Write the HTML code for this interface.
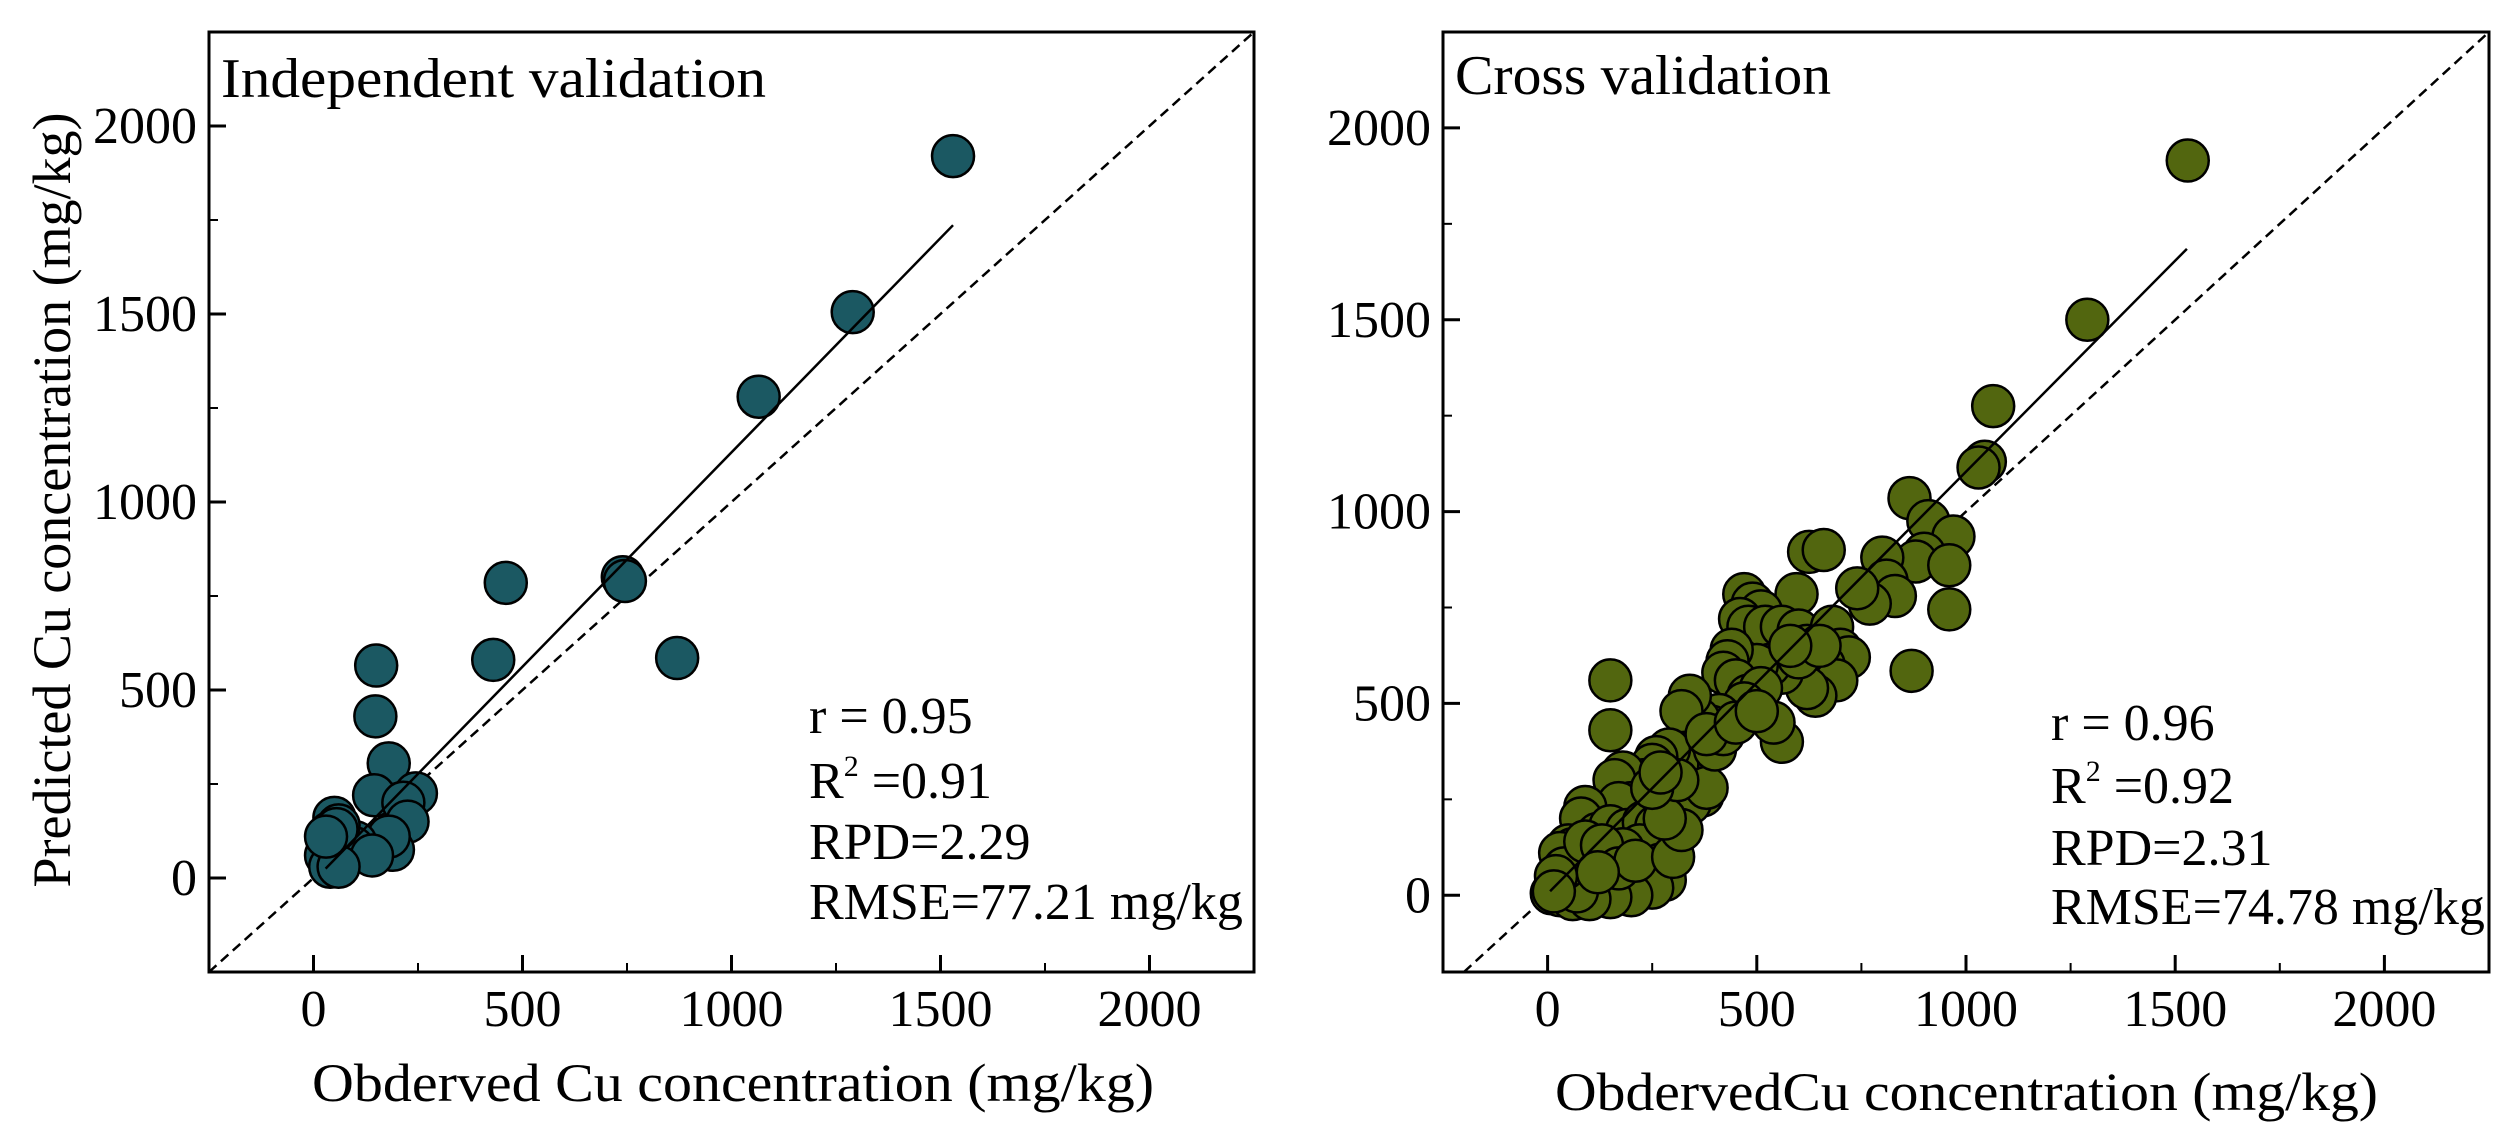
<!DOCTYPE html>
<html><head><meta charset="utf-8"><style>
html,body{margin:0;padding:0;background:#fff;}
svg text{font-family:"Liberation Serif",serif;fill:#000;}
</style></head><body>
<svg id="chart" width="2512" height="1141" xmlns="http://www.w3.org/2000/svg"></svg>
<script>
const ticks = [0, 500, 1000, 1500, 2000];
const minorTicks = [-250, 250, 750, 1250, 1750, 2250];
const leftObs = [1530,1290,1065,740,745,460,430,870,150,148,180,145,245,215,225,190,180,100,95,140,50,60,40,30,40,60,55,30];
const leftPred = [1920,1505,1280,800,790,785,580,585,565,430,305,220,225,200,150,75,110,95,80,60,160,140,120,60,30,30,130,110];
const rightObs = [1530,1290,1065,1045,1030,865,910,970,900,880,960,960,870,800,810,830,770,740,625,660,595,470,490,510,460,480,520,560,600,620,680,700,720,660,690,640,620,560,530,500,440,430,420,450,480,510,470,410,390,360,340,320,560,540,150,150,380,350,310,290,260,250,230,200,180,160,300,370,340,380,230,200,170,90,80,50,60,30,120,150,190,230,260,280,250,220,180,140,110,80,60,40,20,10,30,60,100,130,160,200,240,270,280,250,200,150,100,70,40,90,130,170,210,300,320,280,310,400,420,380,450,500,600,650,580,250,270,120,20,15];
const rightPred = [1915,1500,1275,1130,1115,1035,975,935,890,870,860,745,585,880,820,780,760,800,895,900,785,785,760,740,720,700,700,700,690,650,700,640,620,600,560,520,540,580,600,600,640,610,580,560,520,540,500,470,440,460,520,480,400,450,560,430,370,300,340,380,360,340,300,290,320,300,250,260,240,280,250,240,240,230,200,130,120,110,160,180,170,190,180,150,120,130,120,90,110,80,60,40,20,5,0,-10,10,30,20,40,60,80,40,20,0,-5,-10,10,70,140,130,70,90,100,170,200,300,380,420,420,450,480,620,650,650,280,320,60,50,10];
const leftFit = [29, 1530];
const leftFitCoef = [1.14, -8];
const rightFit = [6, 1528];
const rightFitCoef = [1.1, 4];
const leftStats = ["r = 0.95", "R2 =0.91", "RPD=2.29", "RMSE=77.21 mg/kg"];
const rightStats = ["r = 0.96", "R2 =0.92", "RPD=2.31", "RMSE=74.78 mg/kg"];

const NS = "http://www.w3.org/2000/svg";
const svg = document.getElementById('chart');
function mk(tag, attrs, parent){const e=document.createElementNS(NS,tag);for(const k in attrs)e.setAttribute(k,attrs[k]);(parent||svg).appendChild(e);return e;}

function panel(cfg){
  const g = mk('g',{});
  
  
  const X = v => cfg.x0 + (v - cfg.xmin)/(cfg.xmax-cfg.xmin)*(cfg.x1-cfg.x0);
  const Y = v => cfg.y1 - (v - cfg.ymin)/(cfg.ymax-cfg.ymin)*(cfg.y1-cfg.y0);
  const lo = Math.max(cfg.xmin,cfg.ymin), hi = Math.min(cfg.xmax,cfg.ymax);
  const d = mk('line',{x1:X(lo),y1:Y(lo),x2:X(hi),y2:Y(hi),stroke:'#000','stroke-width':2.5,'stroke-dasharray':'10,6'},g);
  
  
  for(let i=0;i<cfg.obs.length;i++){
    const c = mk('circle',{cx:X(cfg.obs[i]),cy:Y(cfg.pred[i]),r:21,fill:cfg.color,stroke:'#000','stroke-width':2.5},g);
    
    
  }
  const f = mk('line',{x1:X(cfg.fit[0]),y1:Y(cfg.coef[0]*cfg.fit[0]+cfg.coef[1]),x2:X(cfg.fit[1]),y2:Y(cfg.coef[0]*cfg.fit[1]+cfg.coef[1]),stroke:'#000','stroke-width':2.5},g);
  
  
  const b = mk('rect',{x:cfg.x0,y:cfg.y0,width:cfg.x1-cfg.x0,height:cfg.y1-cfg.y0,fill:'none',stroke:'#000','stroke-width':3},g);
  
  
  ticks.forEach(t=>{
    if(t>=cfg.xmin && t<=cfg.xmax){
      mk('line',{x1:X(t),x2:X(t),y1:cfg.y1,y2:cfg.y1-17,stroke:'#000','stroke-width':3},g);
      const tl = mk('text',{x:X(t),y:cfg.y1+54,'font-size':52,'text-anchor':'middle'},g);
      tl.textContent = t;
      
      
    }
    if(t>=cfg.ymin && t<=cfg.ymax){
      mk('line',{x1:cfg.x0,x2:cfg.x0+17,y1:Y(t),y2:Y(t),stroke:'#000','stroke-width':3},g);
      const tl = mk('text',{x:cfg.x0-12,y:Y(t)+17,'font-size':52,'text-anchor':'end'},g);
      tl.textContent = t;
      
      
    }
  });
  minorTicks.forEach(t=>{
    if(t>cfg.xmin && t<cfg.xmax) mk('line',{x1:X(t),x2:X(t),y1:cfg.y1,y2:cfg.y1-9,stroke:'#000','stroke-width':2},g);
    if(t>cfg.ymin && t<cfg.ymax) mk('line',{x1:cfg.x0,x2:cfg.x0+9,y1:Y(t),y2:Y(t),stroke:'#000','stroke-width':2},g);
  });
  const title = mk('text',{x:cfg.x0+12,y:cfg.titleY,'font-size':56,textLength:cfg.titleLen,lengthAdjust:'spacingAndGlyphs'},g);
  title.textContent = cfg.title;
  
  
  const xt = mk('text',{x:cfg.xtX,y:cfg.xtY,'font-size':54,textLength:cfg.xtLen,lengthAdjust:'spacingAndGlyphs'},g);
  xt.textContent = cfg.xtitle;
  
  
  cfg.stats.forEach((s,i)=>{
    const t = mk('text',{x:cfg.statX,y:cfg.statY[i],'font-size':52},g);
    if(s.startsWith('R2')){
      t.appendChild(document.createTextNode('R'));
      const sp = mk('tspan',{'font-size':30,dy:-22},t); sp.textContent='2';
      const sp2 = mk('tspan',{dy:22},t); sp2.textContent=' =' + s.split('=')[1];
    } else t.textContent = s;
    
    
  });
}

panel({name:'independent-validation-panel',x0:209,x1:1254,y0:32,y1:972,xmin:-250,xmax:2250,ymin:-250,ymax:2250,
  obs:leftObs,pred:leftPred,color:'#1b5862',fit:leftFit,coef:leftFitCoef,
  title:'Independent  validation',titleY:97,titleLen:545,
  xtitle:'Obderved Cu concentration (mg/kg)',xtX:312,xtY:1101,xtLen:842,
  stats:leftStats,statX:809,statY:[733,798,859,919]});
panel({name:'cross-validation-panel',x0:1443,x1:2489,y0:32,y1:972,xmin:-250,xmax:2250,ymin:-200,ymax:2250,
  obs:rightObs,pred:rightPred,color:'#52660f',fit:rightFit,coef:rightFitCoef,
  title:'Cross validation',titleY:94,titleLen:376,
  xtitle:'ObdervedCu concentration (mg/kg)',xtX:1555,xtY:1110,xtLen:823,
  stats:rightStats,statX:2051,statY:[740,803,865,924]});

const yt = mk('text',{x:0,y:0,'font-size':54,'text-anchor':'middle',textLength:775,lengthAdjust:'spacingAndGlyphs',transform:'translate(70,500) rotate(-90)'});
yt.textContent = 'Predicted Cu concentration (mg/kg)';


</script>
</body></html>
